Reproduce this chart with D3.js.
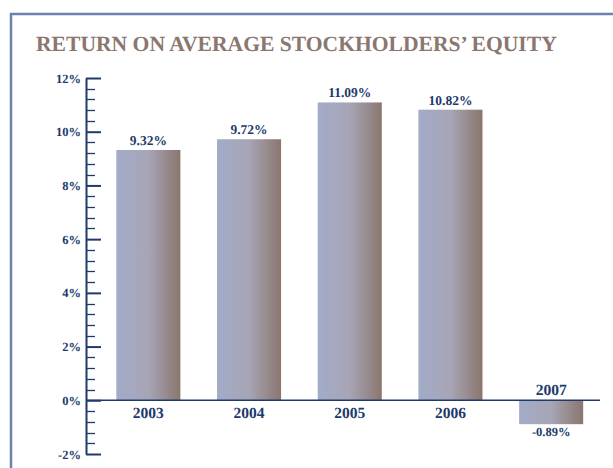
<!DOCTYPE html>
<html>
<head>
<meta charset="utf-8">
<script src="https://cdn.jsdelivr.net/npm/d3@7"></script>
<style>
  body { margin: 0; background: #fff; }
  text { font-family: "Liberation Serif", "DejaVu Serif", serif; font-weight: bold; text-rendering: geometricPrecision; }
</style>
</head>
<body>
<script>
var years = ["2003", "2004", "2005", "2006", "2007"];
var values = [9.32, 9.72, 11.09, 10.82, -0.89];
var valueLabels = ["9.32%", "9.72%", "11.09%", "10.82%", "-0.89%"];
var yTicks = [-2, 0, 2, 4, 6, 8, 10, 12];
var title = "RETURN ON AVERAGE STOCKHOLDERS\u2019 EQUITY";

var width = 613, height = 468;
var navy = "#1d3a6b";

var svg = d3.select("body").append("svg")
    .attr("width", width)
    .attr("height", height);

var grad = svg.append("defs").append("linearGradient")
    .attr("id", "barGrad")
    .attr("x1", 0).attr("x2", 1).attr("y1", 0).attr("y2", 0);
grad.append("stop").attr("offset", "0%").attr("stop-color", "#a3abc8");
grad.append("stop").attr("offset", "50%").attr("stop-color", "#a7a5b6");
grad.append("stop").attr("offset", "100%").attr("stop-color", "#8a766e");

// frame
svg.append("path")
    .attr("d", "M11,468V14H613")
    .attr("fill", "none")
    .attr("stroke", "#6b82ae")
    .attr("stroke-width", 2.5);

// title, squeezed to the width of the original
var t = svg.append("text")
    .attr("x", 36)
    .attr("y", 51)
    .attr("fill", "#8a7770")
    .style("font-size", "21px")
    .text(title);
var len = t.node().getComputedTextLength();
t.style("font-size", (21 * 521 / len) + "px");

var xScale = d3.scaleBand().domain(years).range([98, 601.5])
    .paddingInner(0.364).paddingOuter(0.182);
var yScale = d3.scaleLinear().domain([-2, 12]).range([454, 78]);

// bars
svg.selectAll(".bar")
    .data(values)
    .enter().append("rect")
    .attr("class", "bar")
    .attr("x", function(d, i) { return xScale(years[i]); })
    .attr("y", function(d) { return yScale(Math.max(d, 0)); })
    .attr("width", xScale.bandwidth())
    .attr("height", function(d) { return Math.abs(yScale(d) - yScale(0)); })
    .attr("fill", "url(#barGrad)");

// zero line
svg.append("line")
    .attr("x1", 86).attr("x2", 600)
    .attr("y1", yScale(0)).attr("y2", yScale(0))
    .attr("stroke", navy).attr("stroke-width", 1.6);

// minor ticks
var minor = d3.range(0, 36).map(function(i) { return -2 + i * 0.4; })
    .filter(function(v) { return Math.abs(v / 2 - Math.round(v / 2)) > 0.01; });
svg.selectAll(".minor")
    .data(minor)
    .enter().append("line")
    .attr("x1", 86).attr("x2", 95)
    .attr("y1", function(d) { return Math.round(yScale(d)) + 0.5; })
    .attr("y2", function(d) { return Math.round(yScale(d)) + 0.5; })
    .attr("stroke", navy).attr("stroke-width", 1.3);

// y axis
var axis = svg.append("g")
    .attr("transform", "translate(86,0)")
    .call(d3.axisLeft(yScale).tickValues(yTicks).tickSize(-15).tickSizeOuter(0)
        .tickPadding(5).tickFormat(function(d) { return d + "%"; }));
axis.attr("font-family", null);
axis.select(".domain").attr("stroke", navy).attr("stroke-width", 2);
axis.selectAll(".tick line").attr("stroke", navy).attr("stroke-width", 2);
axis.selectAll(".tick text").attr("fill", navy).style("font-size", "12.5px");

// value labels
svg.selectAll(".val")
    .data(values)
    .enter().append("text")
    .attr("class", "val")
    .attr("x", function(d, i) { return xScale(years[i]) + xScale.bandwidth() / 2; })
    .attr("y", function(d) { return d >= 0 ? yScale(d) - 5 : yScale(d) + 12; })
    .attr("text-anchor", "middle")
    .attr("fill", navy)
    .style("font-size", function(d) { return d >= 0 ? "13.5px" : "12.5px"; })
    .text(function(d, i) { return valueLabels[i]; });

// year labels
svg.selectAll(".year")
    .data(values)
    .enter().append("text")
    .attr("class", "year")
    .attr("x", function(d, i) { return xScale(years[i]) + xScale.bandwidth() / 2; })
    .attr("y", function(d) { return d >= 0 ? yScale(0) + 18 : yScale(0) - 5; })
    .attr("text-anchor", "middle")
    .attr("fill", navy)
    .style("font-size", "15.5px")
    .text(function(d, i) { return years[i]; });
</script>
</body>
</html>
